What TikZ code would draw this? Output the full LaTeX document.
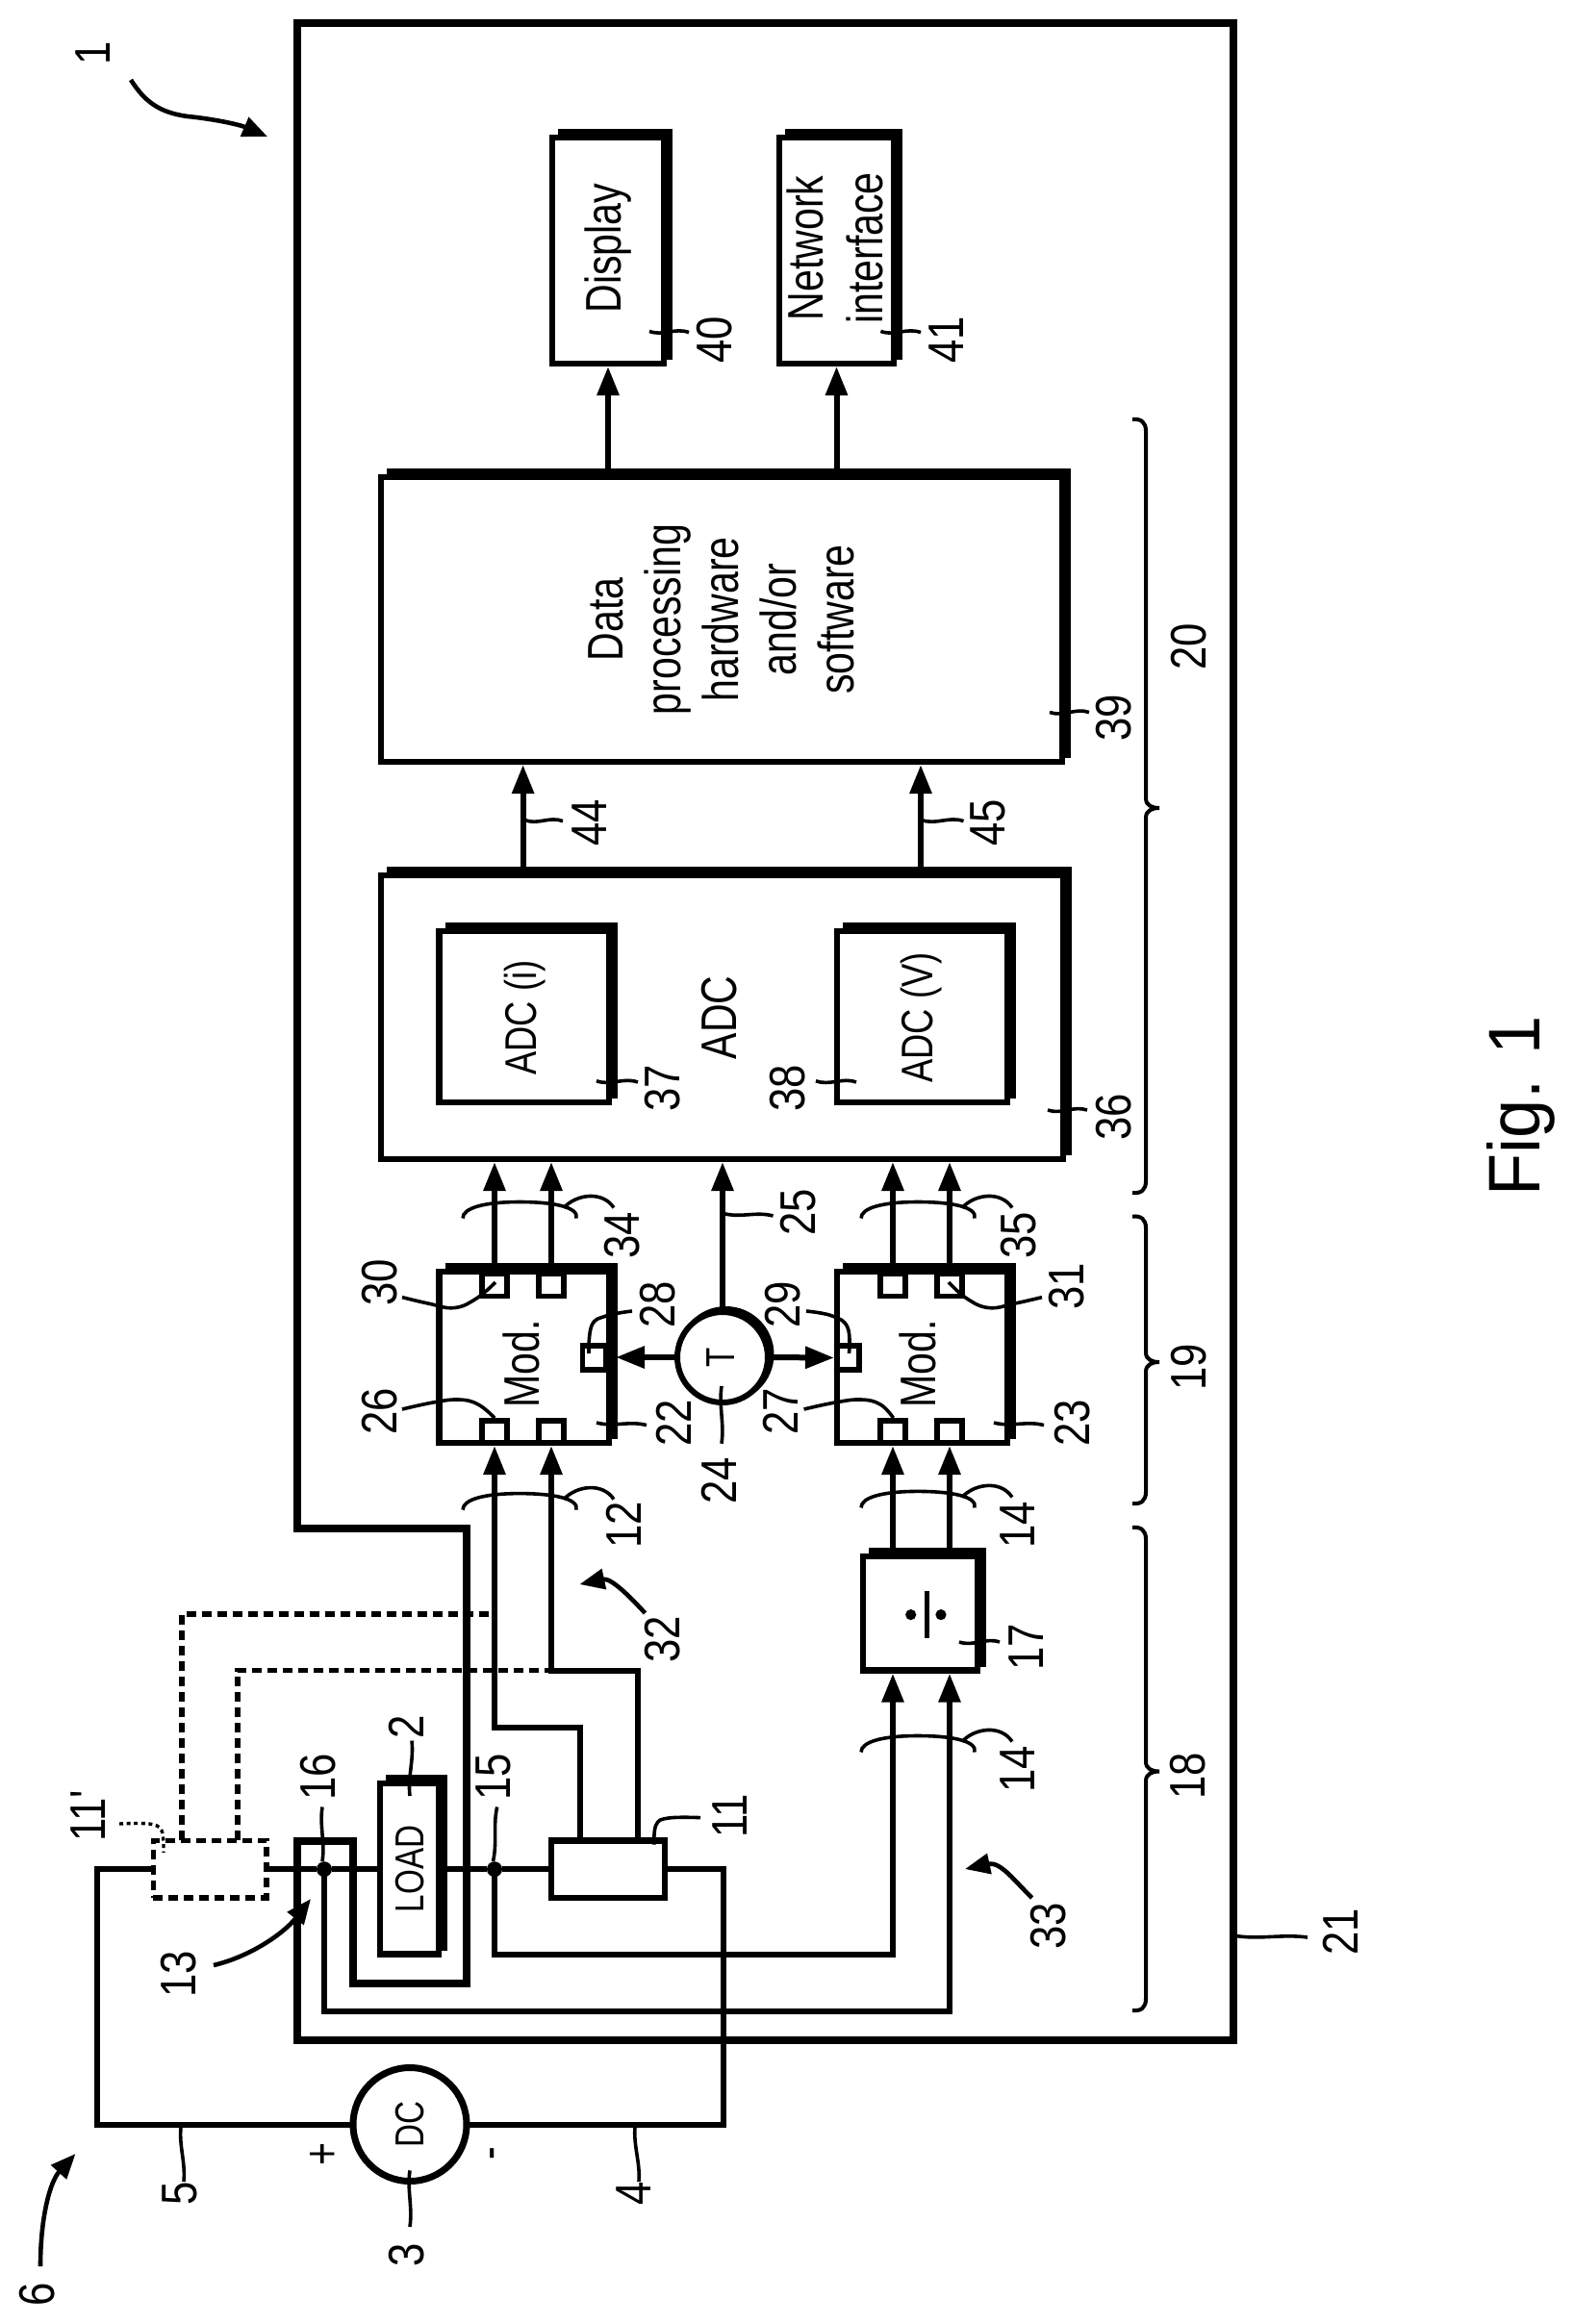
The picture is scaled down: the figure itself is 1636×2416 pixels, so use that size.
\documentclass[tikz,border=0pt]{standalone}
\usepackage{fontspec}
\setmainfont[FakeStretch=0.79]{Liberation Sans}
\newfontfamily\numfont[FakeStretch=0.84]{Liberation Sans}
\newfontfamily\figfont[FakeStretch=0.95]{Liberation Sans}
\usetikzlibrary{arrows.meta,calc}
\tikzset{
  frameline/.style={line width=4pt,line join=miter},
  thinb/.style={rectangle,draw,inner sep=0pt,outer sep=0pt,line width=3.2pt},
  shadowl/.style={line width=6pt},
  portb/.style={rectangle,draw,inner sep=0pt,outer sep=0pt,line width=2.8pt,minimum width=13pt,minimum height=11.5pt},
  wire/.style={line width=3pt},
  arr/.style={line width=3pt,-{Triangle[length=15pt,width=11pt]},shorten >=1.5pt},
  dashw/.style={line width=2.7pt,dash pattern=on 5pt off 3pt},
  leadl/.style={line width=1.8pt},
  dotl/.style={line width=1.7pt,dash pattern=on 2pt off 1.8pt},
  curvarr/.style={line width=2.3pt,-{Triangle[length=13pt,width=10.5pt]}},
  lbl/.style={rotate=90,inner sep=0pt,outer sep=0pt,font=\fontsize{26}{31}\selectfont},
  numlbl/.style={rotate=90,inner sep=0pt,outer sep=0pt,font=\numfont\fontsize{26}{31}\selectfont},
  sublbl/.style={rotate=90,inner sep=0pt,outer sep=0pt,font=\fontsize{23}{28}\selectfont},
  smalllbl/.style={rotate=90,inner sep=0pt,outer sep=0pt,font=\fontsize{21}{26}\selectfont},
  dotn/.style={circle,fill,inner sep=0pt,outer sep=0pt,minimum size=8pt},
  brc/.style={line width=2pt}
}
\newcommand\sbx[5]{%
  \node[thinb,minimum width={(#4-#2)*0.5pt},minimum height={(#5-#3)*0.5pt}] (#1) at ({(#2+#4)/2},{(#3+#5)/2}) {};
  \draw[shadowl] ({#2+6},{#3-3.5}) -- ({#4+3},{#3-3.5}) -- ({#4+3},{#5-4});
}
\newcommand\rlb[4]{\node[numlbl] (l#1) at (#2,#3) {#4};}
% S-shaped leader: name, start, end, control offset
\newcommand\ldr[4]{%
  \coordinate (#1a) at (#2); \coordinate (#1b) at (#3);
  \draw[leadl] (#1a) .. controls ($(#1a)!.35!(#1b)+(#4)$) and ($(#1a)!.65!(#1b)-(#4)$) .. (#1b);
}
\newcommand\ldrpts[1]{\draw[leadl] plot[smooth,tension=.7] coordinates {#1};}
% bundle arc round two wires
\newcommand\bndl[2]{%
  \draw[leadl] ({#1-33},{#2+17}) .. controls ({#1-33},{#2+6}) and ({#1-10},{#2}) .. ({#1+26},{#2})
     .. controls ({#1+60},{#2}) and ({#1+88},{#2+5}) .. ({#1+85},{#2+17});
  \draw[leadl] ({#1+72},{#2+6}) .. controls ({#1+85},{#2-8}) and ({#1+112},{#2-12}) .. ({#1+124},{#2+6});
}
% brace
\newcommand\curlyb[3]{%
  \draw[brc] (1177,#1) .. controls (1186,{#1-1}) and (1191,{#1+3}) .. (1191,{#1+12})
   -- (1191,{#2-10}) .. controls (1191,{#2-3}) and (1197,#2) .. (1205,#2)
   .. controls (1197,#2) and (1191,{#2+3}) .. (1191,{#2+10})
   -- (1191,{#3-12}) .. controls (1191,{#3-3}) and (1186,{#3+1}) .. (1177,#3);
}
\begin{document}
\begin{tikzpicture}[x=0.5pt,y=-0.5pt]
\useasboundingbox (0,0) rectangle (1636,2416);

% main frame 21
\draw[frameline] (309,24) -- (1282,24) -- (1282,2121) -- (309,2121) -- (309,1913.5) -- (367,1913.5)
   -- (367,2062) -- (485,2062) -- (485,1589) -- (309,1589) -- cycle;

% blocks
\sbx{disp}{574}{143}{690}{378}
\sbx{net}{810}{143}{929}{378}
\sbx{dp}{396}{496}{1104}{792}
\sbx{adc}{396}{910}{1105}{1205}
\sbx{adci}{456.5}{968}{633}{1146}
\sbx{adcv}{870}{968}{1047}{1146}
\sbx{modA}{456.5}{1322}{633}{1500}
\sbx{modB}{870}{1322}{1047}{1500}
\sbx{load}{395}{1854}{456}{2031.5}
\sbx{divd}{897}{1618}{1016}{1736.6}
\node[thinb,minimum width=59pt,minimum height=29.75pt] (cs) at (632,1943.2) {};
\node[thinb,dash pattern=on 5pt off 3pt,line width=2.7pt,minimum width=58.75pt,minimum height=29.75pt] (sd) at (218.2,1943.2) {};
\node[circle,draw,line width=3.5pt,inner sep=0pt,outer sep=0pt,minimum size=59pt] (dc) at (426,2208.5) {};

% T element
\fill (754.5,1408) circle (25pt);
\node[circle,draw,fill=white,line width=3pt,inner sep=0pt,outer sep=0pt,minimum size=47pt] (tmp) at (751,1411) {};

% ports
\node[portb] (p26) at (514,1488.5) {};
\node[portb] (pb) at (573,1488.5) {};
\node[portb] (p30) at (514,1336) {};
\node[portb] (pd) at (573,1336) {};
\node[portb] (p27) at (928,1488.5) {};
\node[portb] (pf) at (987,1488.5) {};
\node[portb] (pg) at (928,1336) {};
\node[portb] (p31) at (987,1336) {};
\node[portb,minimum width=12pt,minimum height=12.5pt] (p28) at (617.5,1411.5) {};
\node[portb,minimum width=11.5pt,minimum height=12.5pt] (p29) at (881.5,1411.5) {};

% junctions
\node[dotn] (d15) at (514,1943.2) {};
\node[dotn] (d16) at (337,1943.2) {};

% named bends
\coordinate (c1) at (100.5,1943.2);
\coordinate (c2) at (751.5,1943.2);
\coordinate (c3) at (928,2031.5);
\coordinate (c4) at (987,2091);
\coordinate (w1) at (603,1796);
\coordinate (w2) at (663,1736.6);
\coordinate (d1) at (189,1678);
\coordinate (d2) at (247,1736.6);
\coordinate (a44) at (543.6,790);
\coordinate (a45) at (957,790);
\coordinate (tl) at (640,1411);

% power loop
\draw[wire] (sd.west) -- (c1) |- (dc.west);
\draw[wire] (dc.east) -| (c2) -- (cs.east);
\draw[wire] (sd.east) -- (d16) -- (load.west |- d16);
\draw[wire] (load.east |- d15) -- (d15) -- (cs.west);

% sensing lines
\draw[arr] (d15.center) |- (c3) -- (c3 |- divd.south);
\draw[arr] (d16.center) |- (c4) -- (c4 |- divd.south);
\draw[arr] (c3 |- divd.north) -- (p27.south);
\draw[arr] (c4 |- divd.north) -- (pf.south);
\draw[arr] (w1 |- cs.north) -- (w1) -| (p26.south);
\draw[arr] (w2 |- cs.north) -- (w2) -| (pb.south);
\draw[dashw] (sd.north -| d1) -- (d1) -- (d1 -| p26.south);
\draw[dashw] (sd.north -| d2) -- (d2) -- (d2 -| pb.south);

% to ADC
\draw[arr] (p30.north) -- (p30.north |- adc.south);
\draw[arr] (pd.north) -- (pd.north |- adc.south);
\draw[arr] (pg.north) -- (pg.north |- adc.south);
\draw[arr] (p31.north) -- (p31.north |- adc.south);
\draw[arr] (tmp.north) -- (tmp.north |- adc.south);
\draw[arr,shorten >=0pt] (tmp.west) -- (tl);
\draw[arr] (tmp.east) -- (p29.west);

% to data processing, outputs
\draw[arr] (a44 |- adc.north) -- (a44 |- dp.south);
\draw[arr] (a45 |- adc.north) -- (a45 |- dp.south);
\draw[arr] (disp.south |- dp.north) -- (disp.south);
\draw[arr] (net.south |- dp.north) -- (net.south);

% divider symbol
\draw[line width=2.5pt] (963,1654) -- (963,1703);
\fill (946.7,1678.6) circle (2.8pt);
\fill (978,1678.6) circle (2.8pt);

% bundle arcs
\bndl{514}{1552.6}
\bndl{514}{1249.5}
\bndl{928}{1249.5}
\bndl{928}{1550.4}
\bndl{928}{1804.5}

% braces
\curlyb{436}{840}{1240}
\curlyb{1264.6}{1416}{1563}
\curlyb{1588}{1841.5}{2090}

% curved reference arrows
\coordinate (ra1) at (136,83); \coordinate (rb1) at (278,142);
\draw[curvarr] (ra1) .. controls (150,105) and (165,117) .. (195,121) .. controls (225,124) and (250,130) .. (rb1);
\coordinate (ra6) at (42,2356); \coordinate (rb6) at (78.5,2239);
\draw[curvarr] (ra6) .. controls (42,2305) and (52,2268) .. (rb6);
\coordinate (ra13) at (222,2043); \coordinate (rb13) at (323,1974);
\draw[curvarr] (ra13) .. controls (260,2034) and (295,2010) .. (rb13);
\coordinate (ra32) at (670.5,1677); \coordinate (rb32) at (602.5,1647);
\draw[curvarr] (ra32) .. controls (655,1660) and (635,1640) .. (rb32);
\coordinate (ra33) at (1072.7,1973); \coordinate (rb33) at (1003,1943);
\draw[curvarr] (ra33) .. controls (1055,1956) and (1040,1935) .. (rb33);

% leaders
\ldr{L2}{428,1809.6}{426,1867}{3,0}
\ldr{L16}{335,1878.5}{335,1935}{-3,0}
\ldr{L15}{516.7,1878.5}{512.5,1935}{-3,0}
\ldr{L5}{188,2211.4}{191,2268}{-3,0}
\ldr{L4}{660,2211.4}{664,2268}{-3,0}
\ldr{L3}{426,2256.4}{426,2315}{-3,0}
\ldr{L37}{620,1123.7}{663,1125}{0,5}
\ldr{L38}{848,1123.7}{890,1125}{0,5}
\ldr{L36}{1089,1154}{1130,1154}{0,5}
\ldr{L25}{752,1261.5}{803.5,1264}{0,4}
\ldr{L22}{620,1479}{672,1481.6}{0,4}
\ldr{L23}{1033,1479}{1085,1481.6}{0,4}
\ldr{L24}{750,1441}{750,1500.7}{-3,0}
\ldr{L17}{997,1707}{1039,1707}{0,5}
\ldr{L40}{675,344.4}{716,345.6}{0,5}
\ldr{L41}{915.4,344.4}{957,345.6}{0,5}
\ldr{L39}{1091,740.5}{1132,740.5}{0,5}
\ldr{L44}{545.5,852.5}{585,853.6}{0,5}
\ldr{L45}{958,852.5}{1001.5,853.6}{0,5}
\ldr{L21}{1285.7,2012.7}{1359,2014}{0,3}
\ldrpts{(418,1348.6) (445,1355) (472,1359.6) (495,1350) (515,1333)}
\ldrpts{(1083,1348.6) (1055,1355) (1028,1359.6) (1005,1350) (986,1333)}
\ldrpts{(418,1465) (450,1458) (477,1455) (497,1460) (514,1474)}
\ldrpts{(835.6,1465) (868,1458) (895,1455) (915,1460) (928.5,1474)}
\ldrpts{(657,1363) (630,1368) (615,1378) (612,1407)}
\ldrpts{(838,1363) (865,1368) (881,1380) (882.5,1407)}
\ldrpts{(728,1889.6) (695,1890) (682,1897) (680,1917.6)}
\draw[dotl] plot[smooth,tension=.6] coordinates {(124,1896) (155,1896) (168,1903) (170,1926)};

% block labels
\node[lbl] (tdisp) at (631.6,258) {Display};
\node[lbl,align=center] (tnet) at (868,258) {Network\\interface};
\node[lbl,align=center,font=\fontsize{26}{30}\selectfont] (tdp) at (750,644) {Data\\processing\\hardware\\and/or\\software};
\node[lbl] (tadc) at (748,1058) {ADC};
\node[sublbl] (tai) at (546,1058) {ADC (i)};
\node[sublbl] (tav) at (957.5,1058) {ADC (V)};
\node[lbl] (tma) at (542,1418) {Mod.};
\node[lbl] (tmb) at (954,1418) {Mod.};
\node[smalllbl] (tt) at (749,1411) {T};
\node[smalllbl] (tload) at (426,1943) {LOAD};
\node[smalllbl] (tdc) at (426,2208.5) {DC};

% reference numerals
\rlb{1}{97}{55}{1}
\rlb{2}{422.6}{1795}{2}
\rlb{3}{422.6}{2344}{3}
\rlb{4}{659}{2280}{4}
\rlb{5}{187}{2280}{5}
\rlb{6}{39}{2385}{6}
\rlb{11}{759}{1888}{11}
\rlb{11p}{91.5}{1888}{11'}
\rlb{12}{648.5}{1585}{12}
\rlb{13}{185.7}{2052}{13}
\rlb{14a}{1058}{1585}{14}
\rlb{14b}{1058}{1839}{14}
\rlb{15}{512.5}{1847.5}{15}
\rlb{16}{330.5}{1847.5}{16}
\rlb{17}{1067}{1712}{17}
\rlb{18}{1235}{1846}{18}
\rlb{19}{1236}{1421}{19}
\rlb{20}{1236}{672}{20}
\rlb{21}{1393}{2008}{21}
\rlb{22}{700.4}{1479}{22}
\rlb{23}{1114.7}{1479}{23}
\rlb{24}{747}{1539}{24}
\rlb{25}{830}{1260.5}{25}
\rlb{26}{395}{1467}{26}
\rlb{27}{811}{1467}{27}
\rlb{28}{683.6}{1356}{28}
\rlb{29}{813.7}{1356}{29}
\rlb{30}{395}{1333}{30}
\rlb{31}{1108.6}{1337}{31}
\rlb{32}{689}{1704}{32}
\rlb{33}{1090}{2002}{33}
\rlb{34}{647}{1284.5}{34}
\rlb{35}{1058.6}{1284.5}{35}
\rlb{36}{1158}{1161}{36}
\rlb{37}{688.7}{1131}{37}
\rlb{38}{819}{1131}{38}
\rlb{39}{1158}{746}{39}
\rlb{40}{743}{353}{40}
\rlb{41}{983.7}{353}{41}
\rlb{44}{612.5}{855}{44}
\rlb{45}{1027}{855}{45}
\node[lbl] (lplus) at (337,2239) {+};
\node[lbl] (lminus) at (518,2239) {-};
\node[rotate=90,inner sep=0pt,outer sep=0pt,anchor=base,font=\figfont\fontsize{38}{46}\selectfont] (lfig) at (1600,1149.5) {Fig. 1};
\end{tikzpicture}
\end{document}
